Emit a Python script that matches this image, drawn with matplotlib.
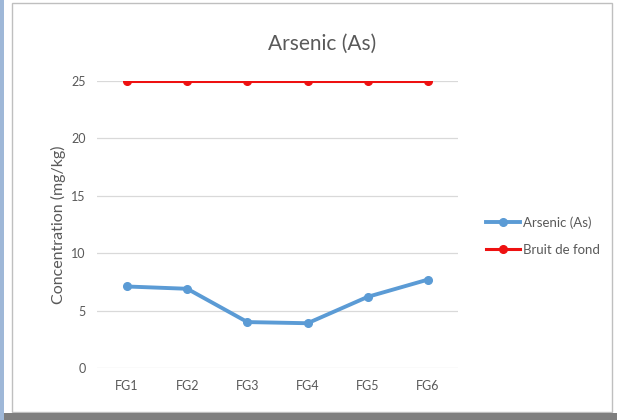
import matplotlib
matplotlib.use("Agg")
import matplotlib.pyplot as plt
from matplotlib.patches import Rectangle

categories = ["FG1", "FG2", "FG3", "FG4", "FG5", "FG6"]
arsenic = [7.1, 6.9, 4.0, 3.9, 6.2, 7.7]
background = [25, 25, 25, 25, 25, 25]
yticks = [0, 5, 10, 15, 20, 25]

plt.rcParams["font.family"] = ["Lato", "DejaVu Sans"]
text_grey = "#595959"

fig = plt.figure(figsize=(6.17, 4.2), dpi=100)
fig.patch.set_facecolor("white")

# chart frame (screenshot border)
fig.add_artist(Rectangle((12 / 617, 8 / 420), 600 / 617, 409 / 420, transform=fig.transFigure,
                         fill=False, edgecolor="#BFBFBF", linewidth=1.0))
fig.add_artist(Rectangle((0, 0), 1, 7 / 420, transform=fig.transFigure,
                         facecolor="#7F7F7F", edgecolor="none"))
fig.add_artist(Rectangle((0, 0), 4 / 617, 1, transform=fig.transFigure,
                         facecolor="#9FB8D8", edgecolor="none"))

ax = fig.add_axes([97 / 617, 1 - 368 / 420, 361 / 617, 287 / 420])
x = range(len(categories))
ax.plot(x, background, color="#EE1111", linewidth=2.2, marker="o", markersize=5.5,
        label="Bruit de fond", zorder=3)
ax.plot(x, arsenic, color="#5B9BD5", linewidth=2.8, marker="o", markersize=5.5,
        label="Arsenic (As)", zorder=4)

ax.set_xlim(-0.5, len(categories) - 0.5)
ax.set_ylim(0, 25)
ax.set_yticks(yticks)
ax.set_xticks(list(x))
ax.set_xticklabels(categories)
ax.grid(axis="y", color="#D9D9D9", linewidth=0.9)
ax.set_axisbelow(True)
for s in ax.spines.values():
    s.set_visible(False)
ax.tick_params(length=0, colors=text_grey, labelsize=9)
ax.tick_params(axis="y", pad=8)
ax.tick_params(axis="x", pad=9)

ax.set_ylabel("Concentration (mg/kg)", color=text_grey, fontsize=11.5, labelpad=4)
fig.text(322 / 617, 1 - 44 / 420, "Arsenic (As)", ha="center", va="center",
         color=text_grey, fontsize=15)

h, l = ax.get_legend_handles_labels()
fig.legend(h[::-1], l[::-1], loc="center left", bbox_to_anchor=(474 / 617, 1 - 236 / 420),
           frameon=False, fontsize=9.5, labelcolor=text_grey, handlelength=2.6,
           handletextpad=0.2, labelspacing=1.1)

fig.savefig("out.png", dpi=100)
plt.close(fig)
